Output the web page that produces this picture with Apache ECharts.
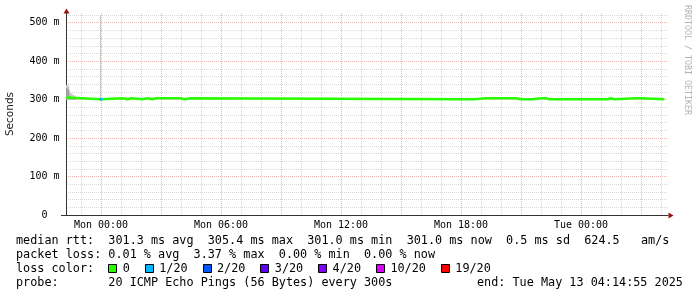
<!DOCTYPE html>
<html><head><meta charset="utf-8">
<script src="https://cdn.jsdelivr.net/npm/echarts@6/dist/echarts.min.js"></script>
<style>html,body{margin:0;padding:0;background:#fff}#c{width:697px;height:297px}</style>
</head><body><div id="c"></div>
<script>
// time in minutes relative to Mon 00:00, values in ms
const medianT = [-105, -100, -60, 0, 5, 65, 80, 90, 125, 140, 155, 165, 170, 240, 250, 270, 1080, 1085, 1110, 1115, 1120, 1155, 1160, 1185, 1190, 1225, 1230, 1245, 1260, 1265, 1295, 1320, 1325, 1335, 1345, 1350, 1375, 1380, 1520, 1530, 1540, 1605, 1610, 1620, 1690];
const medianV = [305.4, 303.6, 301.0, 301.0, 303.6, 301.0, 303.4, 301.0, 303.6, 301.0, 303.4, 301.0, 303.6, 301.0, 303.4, 301.0, 303.0, 301.0, 303.0, 301.0, 303.6, 301.0, 303.6, 301.0, 303.6, 301.0, 303.4, 301.0, 303.0, 301.0, 303.6, 301.0, 303.4, 301.0, 303.0, 301.0, 304.5, 301.0, 303.4, 301.0, 303.6, 301.0, 303.4, 301.0, 301.0];
// loss segments (minutes), loss count out of 20, median value during segment
const lossStart = [-5];
const lossEnd = [5];
const lossCount = [1];
const lossValue = [301.0];
// smoke (min/max ping spread) per sample: start minute, end minute
const smokeT = [-105, -100, -95, -90, -85, -80, -3];
const smokeTEnd = [-100, -95, -90, -85, -80, -75, 0];
const smokeLow = [300.0, 300.0, 300.0, 300.0, 300.0, 300.0, 301.0];
const smokeOuterHigh = [338, 336, 318, 315, 312, 310, 520];
const smokeInnerHigh = [330, 326, 308, 306, 304, 303, 301];
// ticks
const xTickMinutes = [0, 360, 720, 1080, 1440];
const xTickLabels = ['Mon 00:00', 'Mon 06:00', 'Mon 12:00', 'Mon 18:00', 'Tue 00:00'];
const yTickValues = [0, 100, 200, 300, 400, 500];
const yTickLabels = ['0', '100 m', '200 m', '300 m', '400 m', '500 m'];
// legend
const lossLabels = ['0', '1/20', '2/20', '3/20', '4/20', '10/20', '19/20'];
const lossLevels = [0, 1, 2, 3, 4, 10, 19];
const lossColors = ['#26ff00', '#00b8ff', '#0059ff', '#5e00ff', '#7e00ff', '#dd00ff', '#ff0000'];
const rttLine = 'median rtt:  301.3 ms avg  305.4 ms max  301.0 ms min  301.0 ms now  0.5 ms sd  624.5   am/s';
const lossLine = 'packet loss: 0.01 % avg  3.37 % max  0.00 % min  0.00 % now';
const colorLine = 'loss color:';
const probeLine = 'probe:       20 ICMP Echo Pings (56 Bytes) every 300s';
const endLine = 'end: Tue May 13 04:14:55 2025';
const yName = 'Seconds';
const watermark = 'RRDTOOL / TOBI OETIKER';

const MONO = 'DejaVu Sans Mono';
const minorC = '#d8d8d8', majorC = '#ebb4b4', T = 'rgba(0,0,0,0)';
const chart = echarts.init(document.getElementById('c'), null, {renderer: 'canvas'});

function lossColorFor(n) {
  let c = lossColors[0];
  for (let i = 0; i < lossLevels.length; i++) if (n >= lossLevels[i]) c = lossColors[i];
  return c;
}

function smokeSeries(high, color, z) {
  return {
    type: 'custom', silent: true, z: z, clip: true,
    data: smokeT.map((t, i) => [t, smokeTEnd[i], smokeLow[i], high[i]]),
    encode: {x: [0, 1], y: [2, 3]},
    renderItem: (params, api) => {
      const p0 = api.coord([api.value(0), api.value(3)]);
      const p1 = api.coord([api.value(1), api.value(2)]);
      return {type: 'rect', shape: {x: p0[0], y: p0[1], width: p1[0] - p0[0], height: p1[1] - p0[1]},
        style: {fill: color}};
    }
  };
}

const series = [];
series.push(smokeSeries(smokeOuterHigh, '#c8c8c8', 2));
series.push(smokeSeries(smokeInnerHigh, '#9c9c9c', 3));
series.push({type: 'line', step: 'end', symbol: 'none', silent: true,
  data: medianT.map((t, i) => [t, medianV[i]]),
  lineStyle: {color: lossColors[0], width: 2.5}, z: 5});
lossStart.forEach((s, i) => {
  series.push({type: 'line', symbol: 'none', silent: true,
    data: [[s, lossValue[i]], [lossEnd[i], lossValue[i]]],
    lineStyle: {color: lossColorFor(lossCount[i]), width: 2.5}, z: 6});
});

// legend graphics
const rowY = [241, 255, 269, 283];
const font = '11.8px "' + MONO + '"';
const charW = 7.1;
const g = [];
const txt = (x, y, s, align) => g.push({type: 'text', x: x, y: y, silent: true,
  style: {text: s, font: font, fill: '#000', textAlign: align || 'left', textVerticalAlign: 'middle'}});
txt(16, rowY[0], rttLine);
txt(16, rowY[1], lossLine);
txt(16, rowY[2], colorLine);
txt(16, rowY[3], probeLine);
txt(477, rowY[3], endLine);
let bx = 108.3;
lossLabels.forEach((lab, i) => {
  const x0 = Math.round(bx) + 0.5;
  g.push({type: 'rect', silent: true, shape: {x: x0, y: rowY[2] - 4.5, width: 8, height: 8},
    style: {fill: lossColors[i], stroke: '#000', lineWidth: 1}});
  const tx = bx + 14.4;
  txt(tx, rowY[2], lab);
  bx = tx + lab.length * charW + 15;
});
// axis arrows and short axis overhang
g.push({type: 'polygon', silent: true, shape: {points: [[63.5, 13.5], [69.5, 13.5], [66.5, 8.5]]}, style: {fill: '#a01010'}});
g.push({type: 'polygon', silent: true, shape: {points: [[668.5, 212.5], [668.5, 218.5], [673.5, 215.5]]}, style: {fill: '#a01010'}});
g.push({type: 'line', silent: true, shape: {x1: 61, y1: 215.5, x2: 66, y2: 215.5}, style: {stroke: '#333', lineWidth: 1}});
// watermark
g.push({type: 'text', x: 687, y: 60, rotation: -Math.PI / 2, silent: true,
  style: {text: watermark, font: '8.3px "' + MONO + '"', fill: '#b4b4b4', textAlign: 'center', textVerticalAlign: 'middle'}});

chart.setOption({
  animation: false,
  backgroundColor: '#ffffff',
  grid: {left: 66, top: 13, width: 602, height: 202, containLabel: false, outerBoundsMode: 'none'},
  xAxis: {
    type: 'value', min: -105, max: 1701, interval: 15,
    axisLine: {show: true, onZero: false, lineStyle: {color: '#333', width: 1}},
    axisTick: {show: false},
    axisLabel: {show: true, margin: 5, fontFamily: MONO, fontSize: 10, color: '#000',
      formatter: v => { const k = xTickMinutes.indexOf(Math.round(v)); return k >= 0 ? xTickLabels[k] : ''; }},
    splitLine: {show: true, showMaxLine: false,
      lineStyle: {type: [1, 1], width: 1,
        color: [T, T, T, minorC, T, T, T, majorC, T, T, T, minorC]}}
  },
  yAxis: {
    type: 'value', min: 0, max: 525.2, interval: 20,
    name: yName, nameLocation: 'middle', nameGap: 50, nameRotate: 90,
    nameTextStyle: {fontFamily: 'DejaVu Sans', fontSize: 10.5, color: '#222'},
    axisLine: {show: true, onZero: false, lineStyle: {color: '#333', width: 1}},
    axisTick: {show: false},
    axisLabel: {show: true, margin: 21.5, align: 'center', fontFamily: MONO, fontSize: 10, color: '#000',
      formatter: v => { const k = yTickValues.indexOf(Math.round(v * 10) / 10); return k >= 0 ? yTickLabels[k] : ''; }},
    splitLine: {show: true, showMaxLine: false,
      lineStyle: {type: [1, 1], width: 1, color: [majorC, minorC, minorC, minorC, minorC]}}
  },
  series: series,
  graphic: g
});
</script></body></html>
